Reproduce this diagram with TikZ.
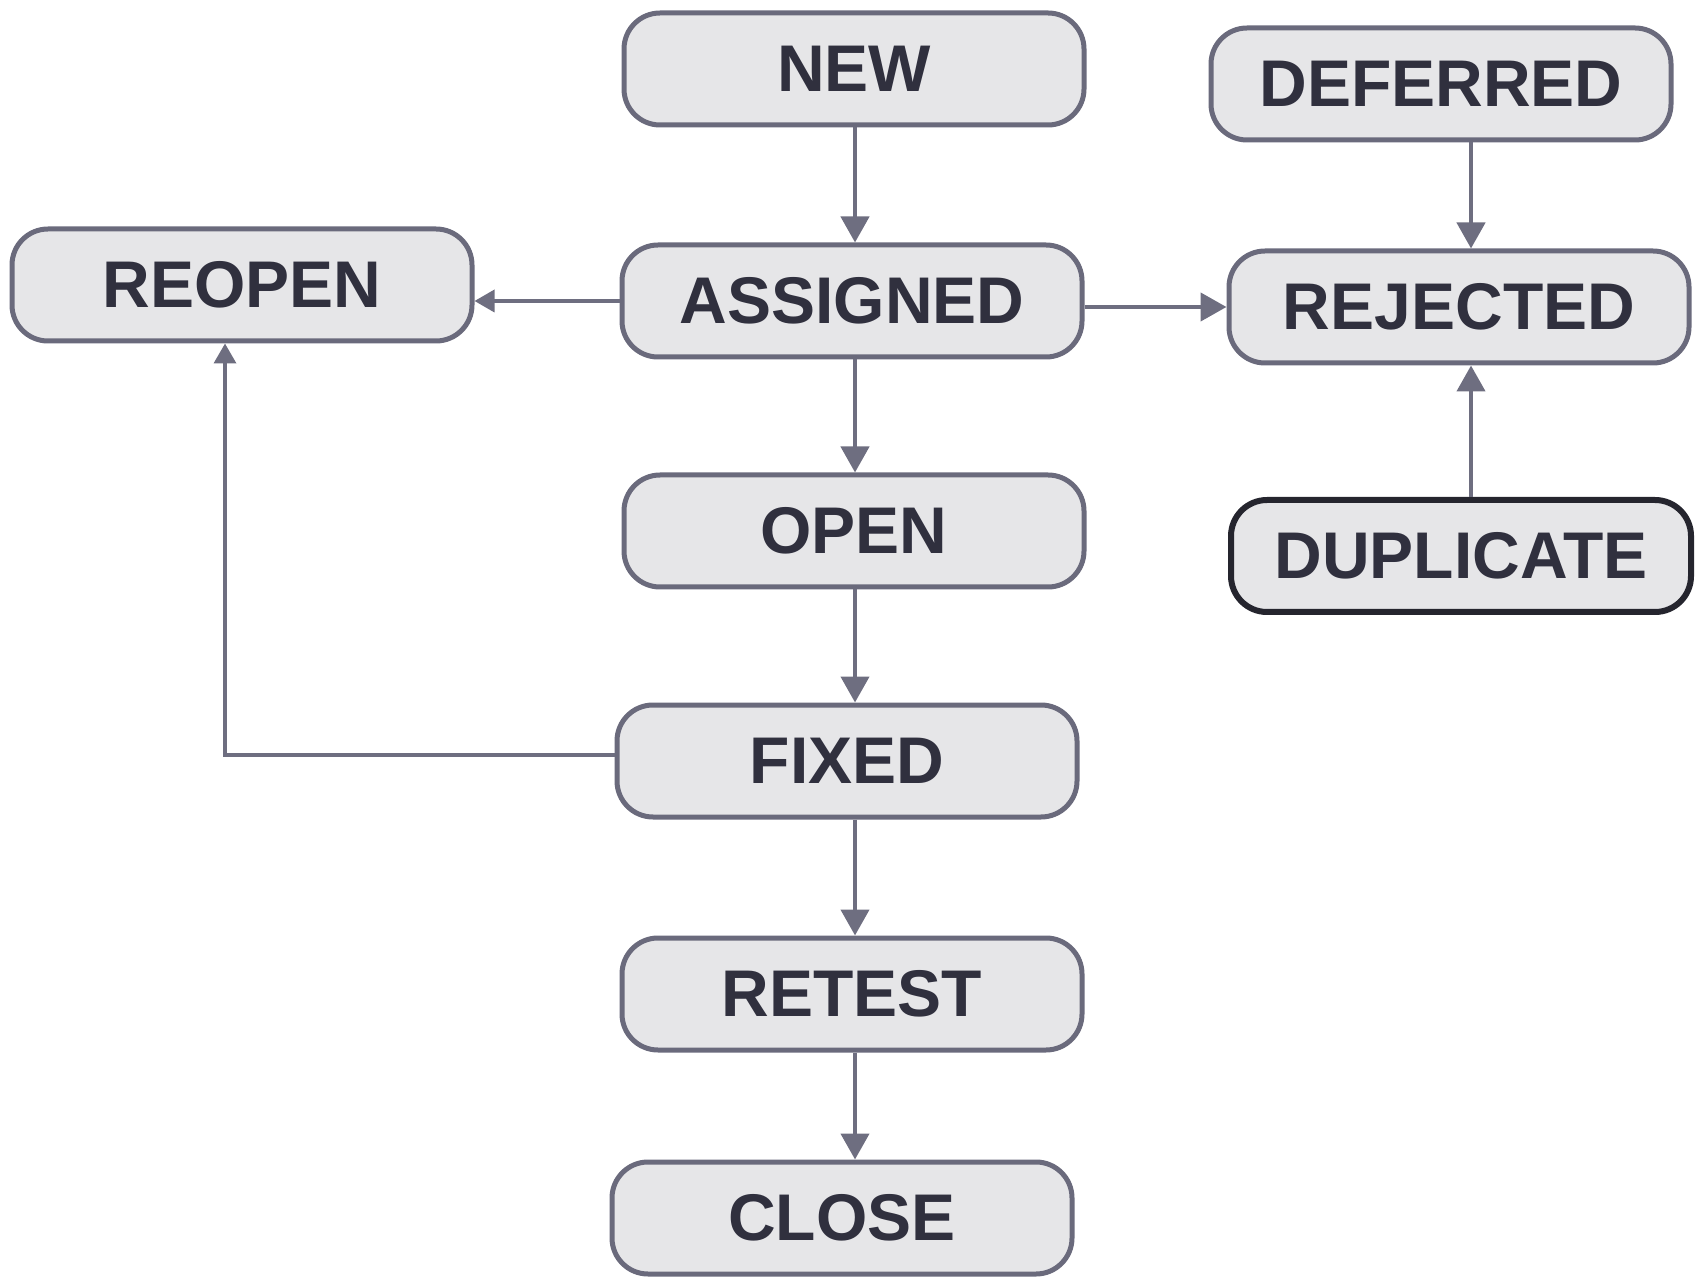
\documentclass[tikz,border=0pt]{standalone}
\usepackage{fontspec}
\setmainfont{Liberation Sans}
\usetikzlibrary{arrows.meta}
\definecolor{boxline}{HTML}{6A6A7C}
\definecolor{boxfill}{HTML}{E6E6E8}
\definecolor{txt}{HTML}{30303E}
\definecolor{arrcol}{HTML}{6E6E80}
\definecolor{darkline}{HTML}{25252E}
\begin{document}
\begin{tikzpicture}[x=0.5pt,y=-0.5pt,
  state/.style={draw=boxline, line width=2.5pt, fill=boxfill, rounded corners=18pt,
    minimum width=230pt, minimum height=56pt, inner sep=0pt,
    text=txt, font=\fontsize{33}{38}\selectfont\bfseries},
  arr/.style={draw=arrcol, line width=2.2pt, -{Triangle[length=13pt,width=14pt]}},
  thinarr/.style={draw=arrcol, line width=1.8pt, -{Triangle[length=10pt,width=11pt]}}]
\useasboundingbox (0,0) rectangle (1696,1277);
\node[state] (new) at (854,69) {NEW};
\node[state] (assigned) at (852,301) {ASSIGNED};
\node[state] (open) at (854,531) {OPEN};
\node[state] (fixed) at (847,761) {FIXED};
\node[state] (retest) at (852,994) {RETEST};
\node[state] (close) at (842,1218) {CLOSE};
\node[state] (reopen) at (242,285) {REOPEN};
\node[state] (deferred) at (1441,84) {DEFERRED};
\node[state] (rejected) at (1459,307) {REJECTED};
\node[state, draw=darkline, line width=3pt] (duplicate) at (1461,556) {DUPLICATE};
\coordinate (col) at (855,0);
\coordinate (rcol) at (1471,0);
\coordinate (lcol) at (225,0);
\draw[arr] (new.south -| col) -- (assigned.north -| col);
\draw[arr] (assigned.south -| col) -- (open.north -| col);
\draw[arr] (open.south -| col) -- (fixed.north -| col);
\draw[arr] (fixed.south -| col) -- (retest.north -| col);
\draw[arr] (retest.south -| col) -- (close.north -| col);
\draw[thinarr] (assigned.west) -- (assigned.west -| reopen.east);
\draw[arr] ([yshift=-3pt]assigned.east) -- ([yshift=-3pt]assigned.east -| rejected.west);
\draw[arr] (deferred.south -| rcol) -- (rejected.north -| rcol);
\draw[arr] (duplicate.north -| rcol) -- (rejected.south -| rcol);
\draw[thinarr] ([yshift=3pt]fixed.west) -| (reopen.south -| lcol);
\end{tikzpicture}
\end{document}
